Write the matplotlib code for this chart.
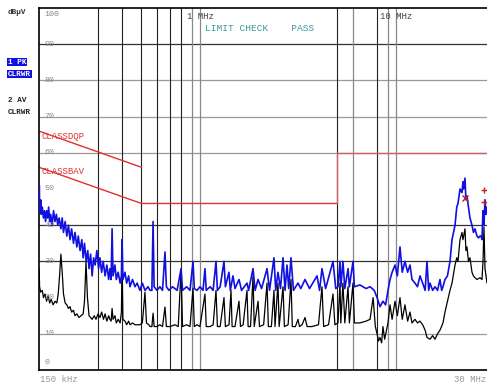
import matplotlib
matplotlib.use("Agg")
import matplotlib.pyplot as plt
import matplotlib.transforms as mtransforms

# --- data (frequency in MHz, level in dBuV) ---
pk_freq = [0.150, 0.1505, 0.151, 0.152, 0.153, 0.154, 0.156, 0.158, 0.160, 0.162,
           0.164, 0.166, 0.168, 0.170, 0.172, 0.175, 0.178, 0.181, 0.184, 0.187,
           0.190, 0.194, 0.197, 0.200, 0.204, 0.208, 0.212, 0.216, 0.220, 0.225,
           0.229, 0.234, 0.238, 0.243, 0.248, 0.252, 0.256, 0.261, 0.266, 0.270,
           0.275, 0.280, 0.285, 0.290, 0.296, 0.302, 0.307, 0.313, 0.319, 0.326,
           0.333, 0.340, 0.345, 0.350, 0.354, 0.358, 0.366, 0.372, 0.380, 0.389,
           0.395, 0.398, 0.402, 0.412, 0.420, 0.430, 0.437, 0.450, 0.463, 0.475,
           0.491, 0.505, 0.521, 0.540, 0.553, 0.565, 0.573, 0.580, 0.600, 0.621,
           0.640, 0.659, 0.670, 0.690, 0.720, 0.760, 0.796, 0.810, 0.850, 0.884,
           0.916, 0.930, 0.960, 0.994, 1.030, 1.054, 1.070, 1.120, 1.160, 1.200,
           1.220, 1.260, 1.318, 1.340, 1.398, 1.420, 1.465, 1.500, 1.572, 1.620,
           1.727, 1.760, 1.854, 1.900, 1.966, 2.050, 2.185, 2.250, 2.371, 2.420,
           2.485, 2.560, 2.637, 2.700, 2.763, 2.820, 2.896, 2.980, 3.144, 3.250,
           3.414, 3.600, 3.931, 4.050, 4.168, 4.350, 4.743, 4.900, 5.030, 5.150,
           5.200, 5.330, 5.450, 5.660, 5.750, 6.000, 6.100, 6.500, 7.000, 7.330,
           7.700, 7.960, 8.240, 8.530, 8.800, 9.050, 9.270, 9.500, 9.830, 10.10,
           10.42, 10.70, 11.05, 11.40, 11.72, 12.00, 12.43, 12.80, 13.18, 13.60,
           14.00, 14.31, 14.60, 14.82, 15.30, 15.72, 16.20, 16.67, 17.00, 17.27,
           17.68, 18.20, 18.75, 19.20, 19.89, 20.30, 20.60, 21.09, 21.59, 21.84,
           22.00, 22.36, 22.60, 22.89, 23.30, 23.71, 24.28, 24.70, 25.15, 25.74,
           26.20, 26.67, 27.00, 27.30, 27.63, 27.95, 28.29, 28.60, 28.96, 30.00]
pk_level = [44, 51, 46, 44, 47, 43, 45, 42, 44, 41,
            44, 42, 45, 41, 43, 40, 44, 41, 43, 40,
            42, 39, 42, 38, 41, 37, 40, 36, 39, 35,
            38, 34, 37, 33, 36, 31, 35, 30, 33, 28,
            32, 26, 31, 29, 33, 28, 31, 27, 30, 26,
            29, 25, 28, 25, 39, 26, 29, 25, 27, 24,
            26, 36, 25, 27, 24, 26, 23, 25, 23, 24,
            22, 24, 22, 23, 22, 22, 41, 23, 22, 23,
            22, 32.6, 23, 22, 23, 22, 28, 22, 23, 22,
            30, 22.5, 22, 23, 22, 28, 22, 23, 22, 30,
            22, 23, 30, 23, 27, 22, 26, 22.5, 25, 22,
            24, 22, 28, 22, 25, 22.5, 28, 22, 31, 22,
            27, 22.5, 31, 22, 29, 22.5, 31, 22, 24, 22.5,
            25, 22.5, 26, 22, 28, 22.5, 30, 22.5, 23, 30,
            23, 30, 22.5, 28, 23, 30, 23, 23.5, 22.5, 23,
            22, 20, 17.5, 19, 18, 22, 25, 27, 29, 26,
            34, 27, 30, 27, 29, 25, 24, 23, 26, 24,
            22, 30, 22, 24, 22, 23, 22, 25, 22, 23,
            25, 26, 30, 36, 40, 45, 46, 50, 49, 52,
            50, 53, 47, 48, 45, 42, 40, 38, 39, 37,
            36.5, 37, 37, 36, 44, 40, 47, 43, 45, 44]

av_freq = [0.150, 0.1505, 0.151, 0.153, 0.156, 0.158, 0.161, 0.164, 0.167, 0.170,
           0.173, 0.177, 0.181, 0.185, 0.188, 0.191, 0.194, 0.197, 0.200, 0.204,
           0.208, 0.212, 0.216, 0.220, 0.225, 0.229, 0.234, 0.240, 0.246, 0.252,
           0.256, 0.2606, 0.265, 0.270, 0.275, 0.280, 0.287, 0.293, 0.300, 0.307,
           0.313, 0.320, 0.326, 0.333, 0.340, 0.345, 0.350, 0.354, 0.358, 0.366,
           0.372, 0.380, 0.389, 0.395, 0.398, 0.402, 0.412, 0.420, 0.430, 0.437,
           0.450, 0.463, 0.475, 0.491, 0.505, 0.521, 0.530, 0.545, 0.553, 0.565,
           0.573, 0.580, 0.600, 0.620, 0.640, 0.659, 0.670, 0.700, 0.740, 0.770,
           0.796, 0.810, 0.850, 0.884, 0.916, 0.930, 0.960, 0.994, 1.054, 1.070,
           1.120, 1.160, 1.200, 1.220, 1.260, 1.318, 1.340, 1.398, 1.431, 1.450,
           1.500, 1.572, 1.600, 1.650, 1.727, 1.750, 1.800, 1.854, 1.880, 1.966,
           2.000, 2.100, 2.185, 2.220, 2.300, 2.371, 2.400, 2.485, 2.520, 2.637,
           2.680, 2.800, 2.896, 2.940, 3.050, 3.144, 3.200, 3.300, 3.414, 3.500,
           3.700, 4.000, 4.168, 4.250, 4.500, 4.743, 4.850, 5.030, 5.150, 5.200,
           5.330, 5.450, 5.660, 5.750, 6.000, 6.100, 6.500, 7.000, 7.330, 7.600,
           7.800, 7.960, 8.100, 8.240, 8.400, 8.530, 8.700, 9.050, 9.270, 9.500,
           9.830, 10.10, 10.42, 10.70, 11.05, 11.40, 11.72, 12.00, 12.43, 12.80,
           13.18, 13.60, 14.00, 14.31, 14.82, 15.30, 15.72, 16.20, 16.67, 17.27,
           17.68, 18.20, 18.75, 19.20, 19.89, 20.30, 20.60, 21.09, 21.59, 21.84,
           22.36, 22.60, 22.89, 23.30, 23.71, 24.28, 24.70, 25.15, 25.74, 26.67,
           27.30, 27.63, 27.95, 28.29, 28.96, 30.00]
av_level = [28, 27, 23, 21.5, 22, 20, 21, 19, 20.5, 18.5,
            19.5, 18, 19, 18.5, 21, 26, 32, 27, 21, 18.5,
            18, 17, 17.5, 16, 16.5, 15, 15.5, 14.5, 15, 15.5,
            19, 30, 20, 15, 14.5, 14, 15, 14, 15.5, 14.5,
            16, 14, 15.5, 13.5, 15, 14, 13.5, 17, 14, 15,
            13, 14, 13, 16, 30, 14, 13.5, 12.5, 13.5, 12.5,
            13, 12.5, 12.5, 12.5, 13, 21.5, 13, 12.5, 12, 12,
            15.7, 12, 12, 12.5, 12, 17.4, 12, 12, 12.5, 12,
            27.6, 12, 12.5, 12, 22.6, 12, 12.5, 12, 21, 12,
            12, 12.5, 22, 12, 12, 20, 12, 12.5, 22, 12,
            12, 19, 12, 12.5, 22, 12, 12, 26, 12, 19,
            12, 12.5, 24, 12, 12, 22, 12, 24, 12, 23,
            12, 12.5, 25, 12, 12, 14, 12, 12.5, 14.5, 12,
            12, 12.5, 23, 12, 12.5, 21, 12.5, 13, 24, 13,
            24, 13, 23, 13, 24, 13, 13, 13.5, 14, 20,
            12, 10, 8, 9, 7.5, 12, 8.5, 13, 18, 14,
            19, 15, 20, 14, 18, 13.5, 16, 13, 14, 13,
            13.5, 12.5, 11, 9, 8.5, 9.5, 8.5, 10, 11, 13,
            16, 19, 22, 24, 29, 31, 30, 36, 38, 36,
            39, 33, 34, 30, 31, 27, 26, 25.5, 25, 25.5,
            25, 30, 39.5, 28, 24, 25]

# limit lines as shown on screen
qp_freq = [0.15, 0.5]
qp_level = [66, 56]
av_lim_freq = [0.15, 0.5, 5.0, 5.0, 30.0]
av_lim_level = [56, 46, 46, 60, 60]

hgrid_dark = [90, 40, 30]
hgrid_light = [80, 70, 60, 10]
vgrid_dark = [0.3, 0.4, 0.5, 0.6, 0.7, 0.8, 5.0, 8.0]
vgrid_light = [0.9, 1.0, 6.0, 9.0, 10.0]
ylabels = [100, 90, 80, 70, 60, 50, 40, 30, 20, 10, 0]

mono = "Liberation Mono"

fig = plt.figure(figsize=(4.87, 3.85), dpi=100)
ax = fig.add_axes([39 / 487, 15 / 385, 451 / 487, 362 / 385])
ax.set_xscale("log")
ax.set_xlim(0.15, 30)
ax.set_ylim(0, 100)
ax.set_xticks([])
ax.set_yticks([])
ax.minorticks_off()
for s in ax.spines.values():
    s.set_linewidth(1.2)
    s.set_color("black")

for v in hgrid_dark:
    ax.axhline(v, color="#333333", lw=0.9, zorder=1)
for v in hgrid_light:
    ax.axhline(v, color="#999999", lw=0.9, zorder=1)
for f in vgrid_dark:
    ax.axvline(f, color="#222222", lw=0.8, zorder=1)
for f in vgrid_light:
    ax.axvline(f, color="#888888", lw=0.9, zorder=1)

ax.plot(qp_freq, qp_level, color="#e03030", lw=1.0, zorder=2)
ax.plot(av_lim_freq[:3], av_lim_level[:3], color="#e03030", lw=1.0, zorder=2)
ax.plot(av_lim_freq[2:], av_lim_level[2:], color="#d06060", lw=1.0, zorder=2)

ax.plot(av_freq, av_level, color="black", lw=0.9, zorder=3)
ax.plot(pk_freq, pk_level, color="#1010e0", lw=1.2, zorder=4)

# peak markers
ax.plot([22.36], [47.5], marker="x", color="#c02020", ms=4, mew=1, zorder=5)
ax.plot([28.1, 28.1], [49.7, 46.4], ls="none", marker="+", color="#c02020",
        ms=5, mew=1, zorder=5)

# y labels inside plot
trans = mtransforms.blended_transform_factory(ax.transAxes, ax.transData)
for v in ylabels:
    yy = v
    if v == 100:
        yy = 98.3
    elif v == 0:
        yy = 2.2
    ax.text(0.012, yy, str(v), transform=trans, fontsize=6, color="#888888",
            va="center", ha="left", family=mono, zorder=6)

ax.text(0.15 * 1.03, 64.6, "CLASSDQP", fontsize=6.5, color="#e03030",
        family=mono, va="center", zorder=6)
ax.text(0.15 * 1.03, 54.7, "CLASSBAV", fontsize=6.5, color="#e03030",
        family=mono, va="center", zorder=6)

ax.text(1.0, 97.6, "1 MHz", fontsize=6.5, color="#444444", family=mono,
        ha="center", va="center", zorder=6)
ax.text(10.0, 97.6, "10 MHz", fontsize=6.5, color="#444444", family=mono,
        ha="center", va="center", zorder=6)
ax.text(1.05, 94.2, "LIMIT CHECK    PASS", fontsize=6.8, color="#3a9a9a",
        family=mono, ha="left", va="center", zorder=6)

# left side annotations
fig.text(8 / 487, 1 - 13 / 385, "dB\u00b5V", fontsize=5.5, fontweight="bold",
         color="#333333", family=mono, va="center")
fig.text(8 / 487, 1 - 62 / 385, "1 PK", fontsize=5.5, fontweight="bold",
         color="white", family=mono, va="center",
         bbox=dict(facecolor="#1010e0", edgecolor="none", pad=0.6))
fig.text(8 / 487, 1 - 74 / 385, "CLRWR", fontsize=5.5, fontweight="bold",
         color="white", family=mono, va="center",
         bbox=dict(facecolor="#1010e0", edgecolor="none", pad=0.6))
fig.text(8 / 487, 1 - 100 / 385, "2 AV", fontsize=5.5, fontweight="bold",
         color="#222222", family=mono, va="center")
fig.text(8 / 487, 1 - 112 / 385, "CLRWR", fontsize=5.5, fontweight="bold",
         color="#222222", family=mono, va="center")

fig.text(40 / 487, 1 - 380 / 385, "150 kHz", fontsize=6.5, color="#999999",
         family=mono, va="center")
fig.text(486 / 487, 1 - 380 / 385, "30 MHz", fontsize=6.5, color="#999999",
         family=mono, va="center", ha="right")

fig.savefig("out.png", dpi=100)
